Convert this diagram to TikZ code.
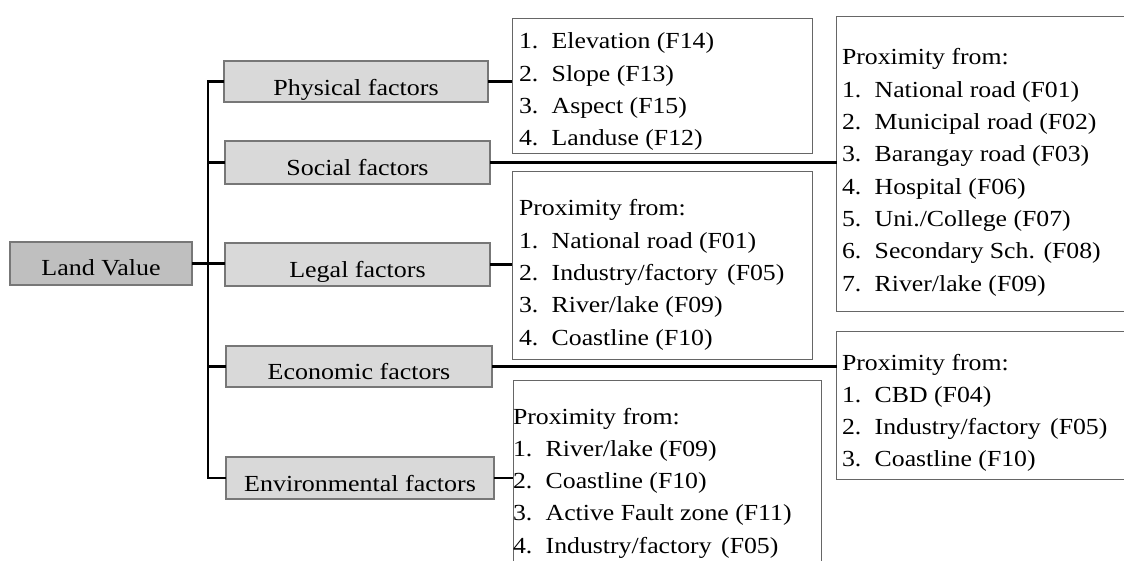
\documentclass[tikz,border=0pt]{standalone}
\usepackage{fontspec}
\setmainfont{Liberation Serif}
\usepackage{graphicx}

\definecolor{boxgray}{HTML}{D9D9D9}
\definecolor{rootgray}{HTML}{BFBFBF}
\definecolor{edgegray}{HTML}{777777}
\definecolor{listedge}{HTML}{666666}

\newcommand\hs[1]{\scalebox{1.13}[1]{#1}}
\newcommand\itm[2]{\makebox[29.2pt][l]{#1}#2}
\newcommand\lst[1]{\scalebox{1.12}[1]{\fontsize{23}{32.3}\selectfont\begin{tabular}[t]{@{}l@{}}#1\end{tabular}}}

\tikzset{
  factor/.style={draw=edgegray, line width=1.1pt, fill=boxgray, anchor=north west,
    inner sep=0pt, outer sep=0pt, font=\fontsize{23}{26}\selectfont},
  rootbox/.style={factor, fill=rootgray},
  listbox/.style={draw=listedge, line width=1pt, anchor=north west,
    inner sep=0pt, outer sep=0pt},
  txt/.style={anchor=base west, inner sep=0pt, outer sep=0pt},
  conn/.style={line width=2.4pt, black},
}

\begin{document}
\begin{tikzpicture}[x=1pt,y=-1pt]
\useasboundingbox (0,0) rectangle (1124,561);
\clip (0,0) rectangle (1124,561);

% root and factor boxes
\node[rootbox, minimum width=182pt, text height=34pt, text depth=9pt] (land) at (10,242) {\hs{Land Value}};
\node[factor, minimum width=264pt, text height=35pt, text depth=6pt] (phys) at (224,61) {\hs{Physical factors}};
\node[factor, minimum width=265pt, text height=35pt, text depth=8pt] (social) at (225,141) {\hs{Social factors}};
\node[factor, minimum width=265pt, text height=35pt, text depth=8pt] (legal) at (225,243) {\hs{Legal factors}};
\node[factor, minimum width=266pt, text height=33pt, text depth=8pt] (econ) at (226,346) {\hs{Economic factors}};
\node[factor, minimum width=268pt, text height=34pt, text depth=8pt] (env) at (226,457) {\hs{Environmental factors}};

% list boxes
\node[listbox, minimum width=300pt, minimum height=135pt] (physL) at (512,19) {};
\node[listbox, minimum width=400pt, minimum height=294pt] (socL) at (836.5,17) {};
\node[listbox, minimum width=300pt, minimum height=187pt] (legL) at (512,172) {};
\node[listbox, minimum width=400pt, minimum height=148pt] (ecoL) at (836.5,331) {};
\node[listbox, minimum width=308pt, minimum height=250pt] (envL) at (513,380) {};

% list texts
\node[txt] (physT) at (519,49) {\lst{\itm{1.}{Elevation (F14)}\\ \itm{2.}{Slope (F13)}\\ \itm{3.}{Aspect (F15)}\\ \itm{4.}{Landuse (F12)}}};
\node[txt] (socT) at (842,65) {\lst{Proximity from:\\ \itm{1.}{National road (F01)}\\ \itm{2.}{Municipal road (F02)}\\ \itm{3.}{Barangay road (F03)}\\ \itm{4.}{Hospital (F06)}\\ \itm{5.}{Uni./College (F07)}\\ \itm{6.}{Secondary Sch. (F08)}\\ \itm{7.}{River/lake (F09)}}};
\node[txt] (legT) at (519,216) {\lst{Proximity from:\\ \itm{1.}{National road (F01)}\\ \itm{2.}{Industry/factory\hspace{0.12em} (F05)}\\ \itm{3.}{River/lake (F09)}\\ \itm{4.}{Coastline (F10)}}};
\node[txt] (ecoT) at (842,370) {\lst{Proximity from:\\ \itm{1.}{CBD (F04)}\\ \itm{2.}{Industry/factory\hspace{0.12em} (F05)}\\ \itm{3.}{Coastline (F10)}}};
\node[txt] (envT) at (513,424) {\lst{Proximity from:\\ \itm{1.}{River/lake (F09)}\\ \itm{2.}{Coastline (F10)}\\ \itm{3.}{Active Fault zone (F11)}\\ \itm{4.}{Industry/factory\hspace{0.12em} (F05)}}};

% connectors
\draw[conn] (phys.west) -- ++(-16,0) coordinate (tTop) |- (env.west);
\draw[conn] (land.east) -- (land.east -| legal.west);
\draw[conn] (social.west) -- (social.west -| tTop);
\draw[conn] (econ.west) -- (econ.west -| tTop);

\draw[conn] (phys.east) -- (phys.east -| physL.west);
\draw[conn] (social.east) -- (social.east -| socL.west);
\draw[conn] (legal.east) -- (legal.east -| legL.west);
\draw[conn] (econ.east) -- (econ.east -| ecoL.west);
\draw[conn] (env.east) -- (env.east -| envL.west);
\end{tikzpicture}
\end{document}
